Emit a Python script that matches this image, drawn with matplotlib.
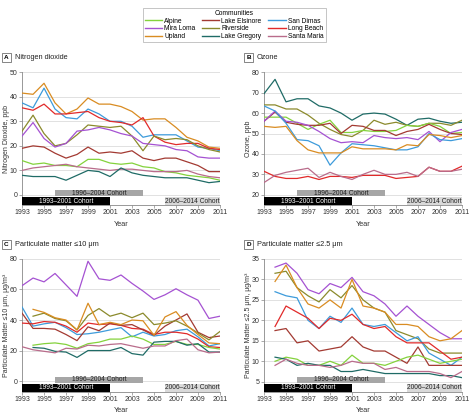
import numpy as np
import matplotlib
matplotlib.use("Agg")
import matplotlib.pyplot as plt
from matplotlib.lines import Line2D
from matplotlib.transforms import blended_transform_factory

plt.rcParams['font.family'] = ['Liberation Sans Narrow', 'Liberation Sans', 'DejaVu Sans']

nan = np.nan
years = list(range(1993, 2012))

communities = ['Alpine', 'Lake Elsinore', 'San Dimas', 'Mira Loma', 'Riverside',
               'Long Beach', 'Upland', 'Lake Gregory', 'Santa Maria']
colors = {'Alpine': '#84d23c', 'Lake Elsinore': '#a33a32', 'San Dimas': '#3d9bdb',
          'Mira Loma': '#a552d2', 'Riverside': '#8b8a2c', 'Long Beach': '#e12a2a',
          'Upland': '#d98c22', 'Lake Gregory': '#1f6b66', 'Santa Maria': '#b96c8b'}

# Nitrogen dioxide, ppb
no2 = {
    'Upland':        [41.5, 41, 45.5, 37.5, 33, 35, 39.5, 37, 37, 36, 34, 30.5, 31, 31, 27.5, 23.5, 22, 19.5, 19],
    'San Dimas':     [37.5, 35.5, 43.5, 35, 31.5, 31, 35, 33, 30, 30, 28, 23.5, 24.5, 24.5, 24.5, 22, 19.5, 19, 18],
    'Long Beach':    [35.5, 34.5, 37, 33, 33, 33.5, 34, 31.5, 30, 29.5, 28.5, 31.5, 24, 21.5, 20.5, 21, 21, 19, 18.5],
    'Riverside':     [26, 32.5, 25, 20, 21, 24.5, 28.5, 28, 27.5, 28, 24, 18, 24, 22.5, 23, 22.5, 20, 18.5, 17.5],
    'Mira Loma':     [24, 29.5, 23, 19.5, 21, 26, 26.5, 27.5, 26.5, 25, 24, 21, 20.5, 20, 18.5, 18, 15.5, 15, 15],
    'Lake Elsinore': [19, 20, 19.5, 17, 15, 16.5, 19.5, 17, 17.5, 17, 18, 15, 14, 15, 15, 13.5, 12, 9.5, 9.5],
    'Alpine':        [14, 12.5, 13, 12, 12, 11.5, 14.5, 14.5, 13, 12.5, 13, 11.5, 11, 9.5, 9, 8, 7.5, 7, 6],
    'Santa Maria':   [10, 11, 11.5, 12, 12.5, 11.5, 11, 10.5, 10, 10.5, 10.5, 10, 9.5, 9.5, 9.5, 10, 8.5, 7.5, 7],
    'Lake Gregory':  [8, 7.5, 7.5, 7.5, 6, 8, 10, 9.5, 7.5, 11, 9, 8, 7.5, 7, 7, 7, 6, 5, 5.5],
}

# Ozone, ppb
ozone = {
    'Lake Gregory':  [69.5, 76.5, 65.5, 67, 67, 63.5, 62.5, 60, 56.5, 59.5, 60, 59.5, 57, 54, 57, 57.5, 56, 55, 55.5],
    'Riverside':     [64, 64, 62, 62, 59, 55, 52, 49.5, 48.5, 51.5, 56.5, 54.5, 55.5, 54, 53.5, 55, 55, 54, 56.5],
    'Alpine':        [58, 58, 58, 55, 52, 54.5, 56.5, 50.5, 50.5, 51.5, 51, 51, 51.5, 54, 53.5, 55, 53.5, 50, 50.5],
    'Lake Elsinore': [56, 60.5, 55.5, 54.5, 54, 54, 55, 50, 54, 53.5, 51.5, 51.5, 49, 51, 52, 54.5, 52, 50, 49.5],
    'Mira Loma':     [56, 61, 56, 55.5, 54, 51, 47.5, 45.5, 46, 45.5, 49, 48, 47.5, 48, 47, 51, 46, 50.5, 52],
    'San Dimas':     [63.5, 61, 55, 47, 46.5, 44, 34.5, 40.5, 45, 44.5, 44, 43, 42, 42, 43.5, 50, 47, 46.5, 47.5],
    'Upland':        [53.5, 53, 53.5, 46.5, 42, 40.5, 40.5, 40.5, 43.5, 42.5, 42.5, 42.5, 42, 44.5, 44, 49.5, 49, 48, 49],
    'Long Beach':    [31.5, 29, 28, 28, 29, 27.5, 29, 29, 28.5, 29.5, 29.5, 29.5, 28, 28.5, 29, 33.5, 31.5, 31.5, 34],
    'Santa Maria':   [26, 29.5, 31, 32, 33, 28.5, 31, 29, 27.5, 30, 32, 30, 30, 31, 29, 33.5, 31.5, 31.5, 32.5],
}

# Particulate matter <=10 um, ug/m3
pm10 = {
    'Mira Loma':     [62.5, 67.5, 65, 70.5, 63, 55.5, 78.5, 67, 66, 69.5, 64, 59, 53.5, 56.5, 60.5, 56.5, 53, 41, 42.5],
    'San Dimas':     [48.5, 36, 37.5, 38.5, 35, 30.5, 31, 32, 33.5, 35, 29, 32, 29.5, 30.5, 33, 34, 29, 23, 24.5],
    'Long Beach':    [38, 37.5, 39, 38.5, 36, 32, 38, 37, 37.5, 36.5, 34.5, 34, 30.5, 32, 32, 31, 27.5, 22.5, 22],
    'Lake Elsinore': [44.5, 34.5, 34.5, 34, 30.5, 26.5, 35.5, 33, 38, 36.5, 37, 33.5, 30, 36, 40, 44, 32, 28.5, 29.5],
    'Riverside':     [nan, 42.5, 44.5, 41, 39.5, 33.5, 43, 47.5, 42.5, 44.5, 41.5, 44.5, 37, 38, 39.5, 36, 31.5, 27, 32.5],
    'Upland':        [nan, 47, 45, 41.5, 40, 33.5, 51, 37, 38.5, 37, 40, 39.5, 30, 42, 45.5, 36.5, 30.5, 25, 24.5],
    'Alpine':        [nan, 23.5, 24.5, 25, 24, 21.5, 24.5, 25.5, 27.5, 27.5, 29.5, 27.5, 24, 24, 26, 24, 24, 22, 21],
    'Lake Gregory':  [nan, 22, 21.5, 19.5, 19, 15.5, 20, 20, 20, 22, 18, 17, 25.5, 26, 26, 23.5, 24.5, 19, 19],
    'Santa Maria':   [22.5, 20.5, 19.5, 18.5, 21.5, 21, 23.5, 23, 24, 24.5, 23, 21.5, 23, 23, 26.5, 27.5, 20.5, 18.5, 19],
}

# Particulate matter <=2.5 um, ug/m3
pm25 = {
    'Mira Loma':     [nan, 33, 34, 31.5, 27.5, 26.5, 29, 28, 30.5, 27, 26, 24, 21, 23.5, 21, 19, 17, 15.5, 15.5],
    'Riverside':     [nan, 31.5, 32, 28, 26, 24.5, 27.5, 25.5, 28.5, 25, 23, 22, 17.5, 16.5, 15.5, 13, 12, 12, 12],
    'Upland':        [nan, 29.5, 33.5, 28, 24, 23, 25, 23, 30, 23.5, 23, 22, 19, 19, 18.5, 16, 15, 15.5, 17.5],
    'San Dimas':     [nan, 27, 26, 25.5, 20, 18, 21, 19.5, 23, 19, 18.5, 19, 17, 15, 16, 12, 10.5, 9, 11],
    'Long Beach':    [nan, 18.5, 23.5, 22, 20.5, 18, 20.5, 20, 21.5, 19, 18, 18.5, 16, 14.5, 14.5, 14.5, 12.5, 10.5, 11],
    'Lake Elsinore': [nan, 17.5, 18, 14.5, 15, 12.5, 13, 13.5, 16, 13.5, 12.5, 12.5, 11, 9.5, 13.5, 9, 9, 9, 9],
    'Alpine':        [nan, 10, 11, 10.5, 9, 9, 10, 9, 11.5, 9.5, 9.5, 9, 10, 11, 11.5, 10.5, 9.5, 10, 10.5],
    'Lake Gregory':  [nan, 11, 10.5, 9, 9.5, 9, 9, 7.5, 7.5, 8, 7.5, 7, 7, 7, 7, 7, 6.5, 6.5, 6],
    'Santa Maria':   [nan, 9, 10.5, 9.5, 9, 9, 8.5, 9, 10, 9.5, 9.5, 8, 8.5, 7.5, 7.5, 7.5, 7, 6, 7.5],
}

panels = [
    ('A', 'Nitrogen dioxide', 'Nitrogen Dioxide, ppb', no2, (-4.1, 50), range(0, 51, 10)),
    ('B', 'Ozone', 'Ozone, ppb', ozone, (15, 80), range(20, 81, 10)),
    ('C', 'Particulate matter \u226410 \u03bcm', 'Particulate Matter \u226410 \u03bcm, \u03bcg/m\u00b3', pm10, (-7, 80), range(0, 81, 20)),
    ('D', 'Particulate matter \u22642.5 \u03bcm', 'Particulate Matter \u22642.5 \u03bcm, \u03bcg/m\u00b3', pm25, (2.55, 35), range(5, 36, 5)),
]

cohorts = [
    (1993, 2001, 0.0, 0.058, '#000000', 'white', '1993\u20132001 Cohort'),
    (1996, 2004, 0.066, 0.112, '#a6a6a6', '#222222', '1996\u20132004 Cohort'),
    (2006, 2011, 0.0, 0.058, '#d9d9d9', '#222222', '2006\u20132014 Cohort'),
]

fig = plt.figure(figsize=(4.69, 4.15), dpi=100)
positions = [(0.047, 0.506), (0.563, 0.506), (0.047, 0.056), (0.563, 0.056)]
W, H = 0.422, 0.32

for (letter, title, ylabel, data, ylim, yticks), (x0, y0) in zip(panels, positions):
    ax = fig.add_axes([x0, y0, W, H])
    ax.set_xlim(1993, 2011)
    ax.set_ylim(*ylim)
    ax.set_yticks(list(yticks))
    ax.set_xticks(range(1993, 2012, 2))
    ax.yaxis.grid(True, color='#dcdcdc', lw=0.6)
    ax.set_axisbelow(True)
    for s in ['top', 'right']:
        ax.spines[s].set_visible(False)
    ax.spines['left'].set_color('#888888')
    ax.spines['bottom'].set_color('#888888')
    ax.spines['left'].set_linewidth(0.6)
    ax.spines['bottom'].set_linewidth(0.6)
    ax.tick_params(labelsize=5, length=2, width=0.5, color='#888888', pad=1.2, labelcolor='#333333')
    for name, vals in data.items():
        ax.plot(years, vals, color=colors[name], lw=0.9, zorder=3)
    trans = blended_transform_factory(ax.transData, ax.transAxes)
    for xa, xb, ya, yb, fc, tc, label in cohorts:
        ax.add_patch(plt.Rectangle((xa, ya), xb - xa, yb - ya, transform=trans,
                                   facecolor=fc, edgecolor='none', zorder=4, clip_on=False))
        ax.text((xa + xb) / 2, (ya + yb) / 2, label, transform=trans, ha='center', va='center',
                fontsize=4.8, color=tc, zorder=5)
    ax.set_ylabel(ylabel, fontsize=5, color='#333333')
    ax.yaxis.set_label_coords(-0.062, 0.5)
    ax.set_xlabel('Year', fontsize=5.3, labelpad=3, color='#333333')
    # panel label
    fx = x0 - 0.038
    fy = y0 + H + 0.035
    fig.text(fx, fy, letter, fontsize=4.6, fontweight='bold', ha='left', va='center',
             bbox=dict(boxstyle='square,pad=0.3', fc='white', ec='#555555', lw=0.5))
    fig.text(fx + 0.022, fy, title, fontsize=5.3, ha='left', va='center', color='#222222')

order = ['Alpine', 'Mira Loma', 'Upland', 'Lake Elsinore', 'Riverside', 'Lake Gregory',
         'San Dimas', 'Long Beach', 'Santa Maria']
handles = [Line2D([], [], color=colors[n], lw=1) for n in order]
leg = fig.legend(handles, order, ncol=3, loc='center', bbox_to_anchor=(0.499, 0.94),
                 title='Communities', fontsize=4.8, title_fontsize=4.8, frameon=True,
                 handlelength=2.6, columnspacing=1.0, labelspacing=0.1, handletextpad=0.3,
                 borderpad=0.35, fancybox=False, edgecolor='#999999')
leg.get_frame().set_linewidth(0.5)

fig.savefig('out.png', dpi=100)
